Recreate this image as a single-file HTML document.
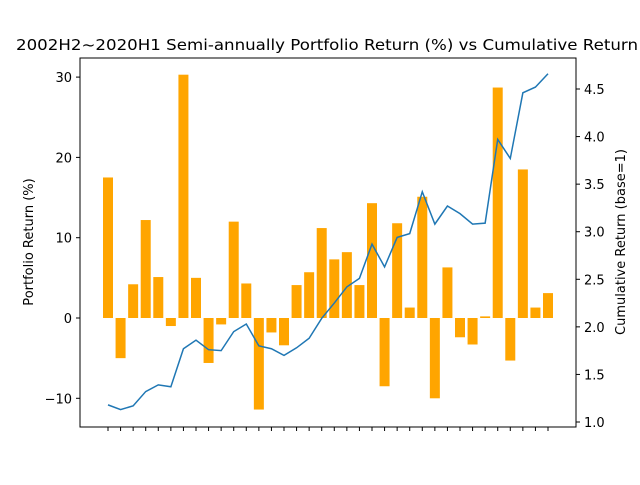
<!DOCTYPE html>
<html><head><meta charset="utf-8"><style>
body{margin:0;background:#fff}
svg text{font-family:"DejaVu Sans","Liberation Sans",sans-serif;fill:#000}
</style></head><body>
<svg width="640" height="480" xmlns="http://www.w3.org/2000/svg">
<rect width="640" height="480" fill="#fff"/>
<text x="16" y="50" font-size="15.5" textLength="622" lengthAdjust="spacingAndGlyphs">2002H2~2020H1 Semi-annually Portfolio Return (%) vs Cumulative Return</text>
<g id="bars"></g>
<polyline id="cum" fill="none" stroke="#1f77b4" stroke-width="1.5"/>
<rect x="80" y="58" width="496" height="369" fill="none" stroke="#000" stroke-width="1"/>
<g id="axes"></g>
<text transform="translate(33,242) rotate(-90)" font-size="13" text-anchor="middle">Portfolio Return (%)</text>
<text transform="translate(625,242) rotate(-90)" font-size="13" text-anchor="middle">Cumulative Return (base=1)</text>
</svg>
<script>
const periodReturns=[17.5,-5,4.2,12.2,5.1,-1.0,30.3,5.0,-5.6,-0.8,12.0,4.3,-11.4,-1.8,-3.4,4.1,5.7,11.2,7.3,8.2,4.1,14.3,-8.5,11.8,1.3,15.1,-10.0,6.3,-2.4,-3.3,0.2,28.7,-5.3,18.5,1.3,3.1];
const cumulativeReturns=[1.18,1.13,1.17,1.32,1.39,1.37,1.77,1.86,1.76,1.75,1.95,2.03,1.80,1.77,1.70,1.78,1.88,2.09,2.25,2.42,2.51,2.87,2.63,2.94,2.98,3.42,3.08,3.27,3.19,3.08,3.09,3.97,3.77,4.46,4.52,4.66];
const leftTicks=[-10,0,10,20,30];
const rightTicks=[1.0,1.5,2.0,2.5,3.0,3.5,4.0,4.5];
const NS="http://www.w3.org/2000/svg";
const xPos=i=>108+i*(440/35);
const yL=v=>318-8.03*v;
const yR=r=>422-(r-1)*95.14;
const bars=document.getElementById('bars');
periodReturns.forEach((v,i)=>{
  const r=document.createElementNS(NS,'rect');
  const y0=yL(0),y1=yL(v);
  r.setAttribute('x',xPos(i)-5);r.setAttribute('width',10);
  r.setAttribute('y',Math.min(y0,y1));r.setAttribute('height',Math.abs(y1-y0));
  r.setAttribute('fill','#ffa500');
  
  
  bars.appendChild(r);
});
document.getElementById('cum').setAttribute('points',cumulativeReturns.map((r,i)=>xPos(i)+','+yR(r)).join(' '));
const ax=document.getElementById('axes');
function line(x1,y1,x2,y2){const l=document.createElementNS(NS,'line');l.setAttribute('x1',x1);l.setAttribute('y1',y1);l.setAttribute('x2',x2);l.setAttribute('y2',y2);l.setAttribute('stroke','#000');


ax.appendChild(l);}
function text(x,y,s,anchor,name){const t=document.createElementNS(NS,'text');t.setAttribute('x',x);t.setAttribute('y',y);t.setAttribute('font-size','13');t.setAttribute('text-anchor',anchor);t.textContent=s;


ax.appendChild(t);}
leftTicks.forEach(v=>{const y=yL(v);line(76,y,80,y);text(72,y+5,v<0?'\u2212'+Math.abs(v):String(v),'end','left-tick-label');});
rightTicks.forEach(r=>{const y=yR(r);line(576,y,580,y);text(584,y+5,r.toFixed(1),'start','right-tick-label');});
periodReturns.forEach((v,i)=>line(xPos(i),427,xPos(i),431));
</script>
</body></html>
